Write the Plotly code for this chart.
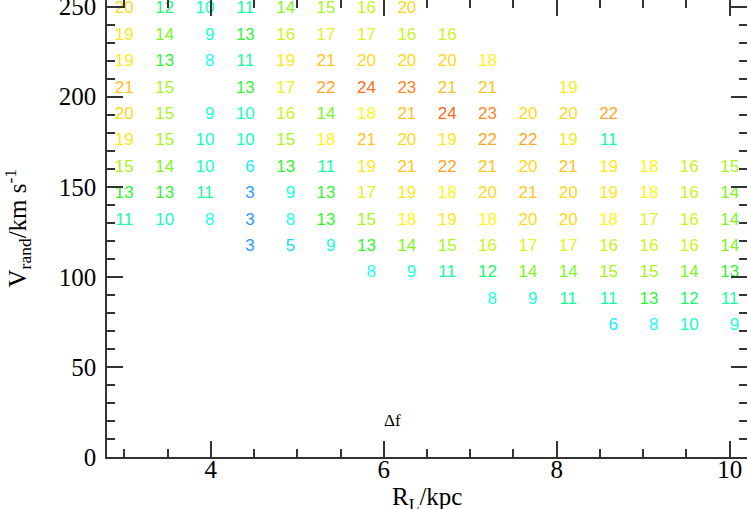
import plotly.graph_objects as go
from plotly.colors import sample_colorscale

# Column positions R_L (kpc) and row positions V_rand (km/s)
cols_R = [3.0, 3.467, 3.933, 4.4, 4.867, 5.333, 5.8, 6.267, 6.733, 7.2,
          7.667, 8.133, 8.6, 9.067, 9.533, 10.0]
rows_V = [249.0, 234.0, 219.2, 204.3, 189.9, 175.7, 160.8, 146.0, 131.2,
          116.7, 102.1, 87.3, 73.0]

N = None
row01 = [20, 12, 10, 11, 14, 15, 16, 20, N, N, N, N, N, N, N, N]
row02 = [19, 14, 9, 13, 16, 17, 17, 16, 16, N, N, N, N, N, N, N]
row03 = [19, 13, 8, 11, 19, 21, 20, 20, 20, 18, N, N, N, N, N, N]
row04 = [21, 15, N, 13, 17, 22, 24, 23, 21, 21, N, 19, N, N, N, N]
row05 = [20, 15, 9, 10, 16, 14, 18, 21, 24, 23, 20, 20, 22, N, N, N]
row06 = [19, 15, 10, 10, 15, 18, 21, 20, 19, 22, 22, 19, 11, N, N, N]
row07 = [15, 14, 10, 6, 13, 11, 19, 21, 22, 21, 20, 21, 19, 18, 16, 15]
row08 = [13, 13, 11, 3, 9, 13, 17, 19, 18, 20, 21, 20, 19, 18, 16, 14]
row09 = [11, 10, 8, 3, 8, 13, 15, 18, 19, 18, 20, 20, 18, 17, 16, 14]
row10 = [N, N, N, 3, 5, 9, 13, 14, 15, 16, 17, 17, 16, 16, 16, 14]
row11 = [N, N, N, N, N, N, 8, 9, 11, 12, 14, 14, 15, 15, 14, 13]
row12 = [N, N, N, N, N, N, N, N, N, 8, 9, 11, 11, 13, 12, 11]
row13 = [N, N, N, N, N, N, N, N, N, N, N, N, 6, 8, 10, 9]
grid_rows = [row01, row02, row03, row04, row05, row06, row07, row08, row09,
             row10, row11, row12, row13]

# colour scale (value 3 -> 24)
vmin, vmax = 3, 24
scale_vals = [3, 5, 6, 8, 9, 10, 11, 12, 13, 14, 15, 16, 17, 18, 19, 20, 21, 22, 23, 24]
scale_cols = ["#3399ff", "#22d6ff", "#22eaff", "#22ffee", "#1affd8", "#14ffc0",
              "#14ff9c", "#1cf870", "#33f533", "#80f522", "#a8f522", "#c8f522",
              "#ddf522", "#fff51a", "#ffe81a", "#ffd81a", "#ffc420", "#ffa526",
              "#ff8526", "#ff6a1a"]
colorscale = [[(v - vmin) / (vmax - vmin), c] for v, c in zip(scale_vals, scale_cols)]

xs, ys, texts, colors = [], [], [], []
for V, row in zip(rows_V, grid_rows):
    for R, val in zip(cols_R, row):
        if val is None:
            continue
        xs.append(R)
        ys.append(V)
        texts.append(f"{val:2d}".replace(" ", "\u2007"))
        colors.append(sample_colorscale(colorscale, [(val - vmin) / (vmax - vmin)])[0])

fig = go.Figure()
fig.add_trace(go.Scatter(
    x=xs, y=ys, mode="text", text=texts,
    textposition="middle center",
    textfont=dict(family="Liberation Sans", size=17, color=colors),
    hoverinfo="skip", showlegend=False, cliponaxis=True,
))

fig.add_annotation(x=6.1, y=20, text="Δf", showarrow=False,
                   font=dict(family="Liberation Serif", size=17, color="black"),
                   xanchor="center", yanchor="middle")

# axis titles
fig.add_annotation(x=0.5, y=0, xref="paper", yref="paper",
                   text="R<sub>L</sub>/kpc", showarrow=False,
                   xanchor="center", yanchor="middle", yshift=-41,
                   font=dict(family="Liberation Serif", size=25, color="black"))
fig.add_annotation(x=0, y=0.5, xref="paper", yref="paper",
                   text="V<sub>rand</sub>/km s<sup>-1</sup>", showarrow=False,
                   textangle=-90, xanchor="center", yanchor="middle", xshift=-90,
                   font=dict(family="Liberation Serif", size=25, color="black"))

axis_common = dict(
    showgrid=False, zeroline=False, showline=True, linecolor="#333333",
    linewidth=1.5, mirror="ticks", ticks="inside", tickcolor="#333333",
    tickwidth=1.5, ticklen=16, automargin=False, ticklabeloverflow="allow",
    tickfont=dict(family="Liberation Serif", size=25, color="black"),
)

fig.update_xaxes(
    range=[2.8, 10.2], tickmode="linear", tick0=4, dtick=2,
    minor=dict(ticks="inside", ticklen=8, dtick=0.5, tick0=3,
               tickcolor="#333333", tickwidth=1.5),
    ticklabelstandoff=-11,
    **axis_common,
)
fig.update_yaxes(
    range=[0, 253.7], tickmode="linear", tick0=0, dtick=50,
    minor=dict(ticks="inside", ticklen=8, dtick=10, tick0=0,
               tickcolor="#333333", tickwidth=1.5),
    ticklabelstandoff=4,
    **axis_common,
)

fig.update_layout(
    width=747, height=509,
    margin=dict(l=107, r=0, t=0, b=52),
    paper_bgcolor="white", plot_bgcolor="white",
)

fig.write_html("out.html", config={"displayModeBar": False},
               post_script="document.body.style.margin='0';document.body.style.overflow='hidden';")
